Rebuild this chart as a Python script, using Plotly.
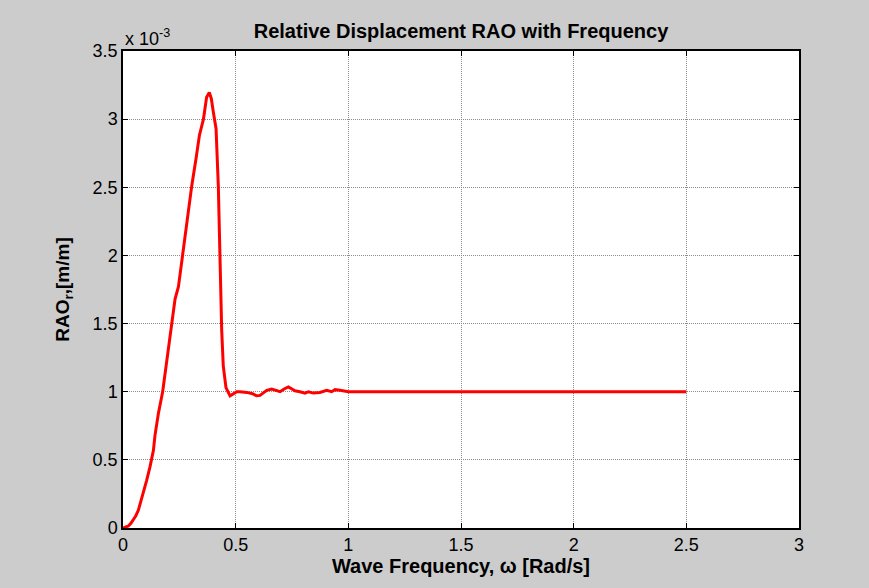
import plotly.graph_objects as go

# Wave frequency [rad/s]
omega = [0.0, 0.012, 0.024, 0.035, 0.046, 0.057, 0.068, 0.079, 0.09, 0.105,
         0.12, 0.135, 0.142, 0.157, 0.176, 0.194, 0.216, 0.231, 0.246, 0.265,
         0.285, 0.305, 0.324, 0.339, 0.357, 0.371, 0.383, 0.392, 0.401, 0.413,
         0.423, 0.429, 0.434, 0.438, 0.445, 0.457, 0.475, 0.49, 0.505, 0.519,
         0.549, 0.575, 0.593, 0.608, 0.623, 0.638, 0.66, 0.68, 0.697, 0.715,
         0.734, 0.75, 0.763, 0.785, 0.808, 0.823, 0.845, 0.874, 0.904, 0.926,
         0.941, 0.963, 0.993, 1.0, 2.5]

# Relative displacement RAO (x 10^-3 m/m)
rao_e3 = [0.0, 0.008, 0.015, 0.035, 0.06, 0.09, 0.13, 0.19, 0.255, 0.35,
          0.45, 0.57, 0.68, 0.84, 1.0, 1.235, 1.505, 1.68, 1.77, 2.02,
          2.29, 2.51, 2.71, 2.88, 3.0, 3.16, 3.196, 3.15, 3.05, 2.93,
          2.51, 2.02, 1.68, 1.45, 1.19, 1.03, 0.97, 0.985, 1.0, 1.0,
          0.995, 0.985, 0.97, 0.973, 0.99, 1.01, 1.02, 1.01, 1.0, 1.02,
          1.035, 1.02, 1.007, 1.0, 0.99, 1.0, 0.99, 0.995, 1.01, 1.0,
          1.015, 1.01, 1.0, 1.0, 1.0]

x_ticks = [0, 0.5, 1, 1.5, 2, 2.5, 3]
x_ticktext = ["0", "0.5", "1", "1.5", "2", "2.5", "3"]
y_ticks = [0, 0.5, 1, 1.5, 2, 2.5, 3, 3.5]
y_ticktext = ["0", "0.5", "1", "1.5", "2", "2.5", "3", "3.5"]

FONT = "Liberation Sans, Arial, sans-serif"

fig = go.Figure()
fig.add_trace(go.Scatter(x=omega, y=rao_e3, mode="lines",
                         line=dict(color="#ff0000", width=3), showlegend=False))

axis_common = dict(showline=True, mirror="allticks", linecolor="black", linewidth=1.5,
                   ticks="inside", ticklen=5, tickcolor="black",
                   showgrid=True, gridcolor="#8c8c8c", griddash="1px,1px", gridwidth=1,
                   zeroline=False, tickfont=dict(family=FONT, size=18, color="black"))

fig.update_xaxes(range=[0, 3], tickvals=x_ticks, ticktext=x_ticktext,
                 title=dict(text="<b>Wave Frequency, ω [Rad/s]</b>",
                            font=dict(family=FONT, size=20, color="black"), standoff=2),
                 **axis_common)
fig.update_yaxes(range=[0, 3.5], tickvals=y_ticks, ticktext=y_ticktext,
                 title=dict(text="<b>RAO<sub>r</sub>,[m/m]</b>",
                            font=dict(family=FONT, size=19, color="black"), standoff=18),
                 **axis_common)

fig.update_layout(
    width=869, height=588,
    paper_bgcolor="#cccccc", plot_bgcolor="white",
    margin=dict(l=123, r=70, t=51, b=60),
    title=dict(text="<b>Relative Displacement RAO with Frequency</b>",
               font=dict(family=FONT, size=20, color="black"),
               x=0.5, xref="paper", xanchor="center", y=1 - 31 / 588, yanchor="middle"),
    annotations=[dict(text="x 10<sup>-3</sup>", xref="paper", yref="paper",
                      x=0, y=1, xanchor="left", yanchor="bottom", yshift=0,
                      showarrow=False, font=dict(family=FONT, size=18, color="black"))],
)

fig.write_html("out.html")
